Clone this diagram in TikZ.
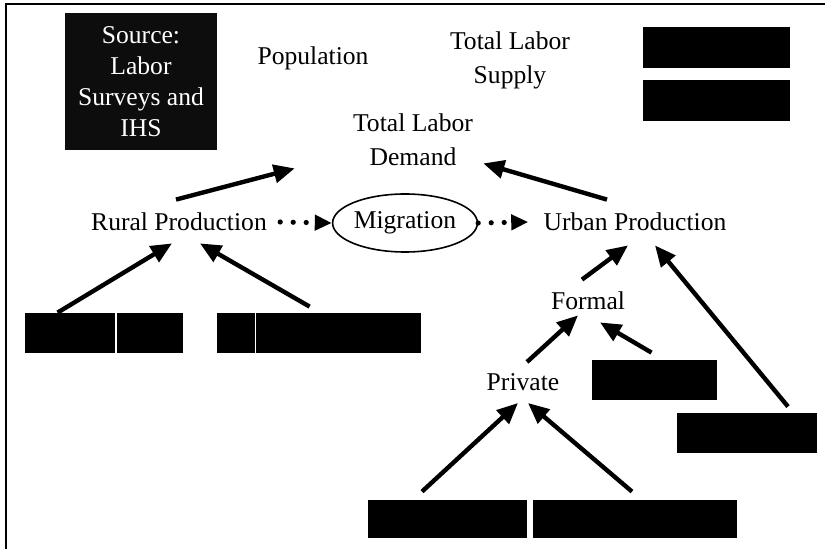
\documentclass[tikz,border=0pt]{standalone}
\usepackage{fontspec}
\setmainfont{Liberation Serif}
\usetikzlibrary{arrows.meta,shapes.geometric}

\begin{document}
\begin{tikzpicture}[
  x=0.5pt, y=-0.5pt,
  every node/.style={font=\fontsize{12.8}{17}\selectfont, inner sep=0pt},
  lbl/.style={align=center},
  src/.style={rectangle, fill=black!95, text=white, align=center, minimum width=76pt, minimum height=68.5pt, font=\fontsize{12.8}{15.5}\selectfont},
  blk/.style={rectangle, fill=black, minimum width=#1, minimum height=20pt},
  mig/.style={ellipse, draw, line width=0.8pt, minimum width=68pt, minimum height=29pt},
  arr/.style={line width=2.2pt, -{Triangle[length=10.5pt,width=9pt]}},
  dots/.style={line width=2.6pt, line cap=round, dash pattern=on 0pt off 6.5pt, -{Triangle[length=8.5pt,width=7.5pt]}},
]
\useasboundingbox (0,0) rectangle (825,549);

% Frame
\draw[line width=1pt] (6,549) -- (6,4) -- (825,4);

% Top row
\node[src] (source) at (141,81.5) {Source:\\Labor\\Surveys and\\IHS};
\node[lbl] (population) at (313,58) {Population};
\node[lbl] (supply) at (510,60.5) {Total Labor\\Supply};
\node[blk=73.5pt, minimum height=20.5pt] (tr1) at (716.5,47.5) {};
\node[blk=73.5pt, minimum height=20.5pt] (tr2) at (716.5,100.5) {};
\node[lbl] (demand) at (413,140) {Total Labor\\Demand};

% Middle row
\node[lbl] (rural) at (179,222) {Rural Production};
\node[mig] (migration) at (405,223) {Migration};
\node[lbl] (urban) at (635,222) {Urban Production};

% Rural inputs
\node[blk=79pt] (bl1) at (104,333) {};
\node[blk=102pt] (bl2) at (319,333) {};
\draw[white, line width=0.6pt] ([xshift=6pt]bl1.north) -- ([xshift=6pt]bl1.south);
\draw[white, line width=0.6pt] ([xshift=19.5pt]bl2.north west) -- ([xshift=19.5pt]bl2.south west);

% Urban branch
\node[lbl] (formal) at (588,301) {Formal};
\node[lbl] (private) at (523,382) {Private};
\node[blk=62.5pt] (pr) at (654.5,380) {};
\node[blk=70pt] (rr) at (747,433) {};
\node[blk=79.5pt, minimum height=19pt] (b1) at (447.5,519) {};
\node[blk=102pt, minimum height=19pt] (b2) at (635,519) {};

% Arrows
\draw[arr] ([xshift=-1.5pt,yshift=6.5pt]rural.north) -- ([xshift=-29pt,yshift=-1pt]demand.south west);
\draw[arr] ([xshift=-14pt,yshift=6.5pt]urban.north) -- ([xshift=5pt,yshift=1.5pt]demand.south east);
\draw[dots] ([xshift=6.5pt]rural.east) -- (migration.west);
\draw[dots] (migration.east) -- ([xshift=-7.5pt]urban.west);
\draw[arr] ([xshift=16.5pt]bl1.north west) -- ([xshift=-3.5pt,yshift=-6pt]rural.south);
\draw[arr] ([xshift=46.5pt,yshift=3pt]bl2.north west) -- ([xshift=10.5pt,yshift=-6pt]rural.south);
\draw[arr] ([xshift=-3pt,yshift=6pt]formal.north) -- ([xshift=-3.5pt,yshift=-7pt]urban.south);
\draw[arr] ([xshift=20.5pt,yshift=3pt]rr.north) -- ([xshift=10pt,yshift=-7pt]urban.south);
\draw[arr] ([xshift=2pt,yshift=5.5pt]private.north) -- ([xshift=-5pt,yshift=-2.5pt]formal.south);
\draw[arr] ([xshift=-1.5pt,yshift=3.5pt]pr.north) -- ([xshift=6pt,yshift=-6pt]formal.south);
\draw[arr] ([xshift=-12.75pt,yshift=4pt]b1.north) -- ([xshift=-2.5pt,yshift=-6pt]private.south);
\draw[arr] ([xshift=-1.5pt,yshift=4pt]b2.north) -- ([xshift=2.5pt,yshift=-6pt]private.south);

\end{tikzpicture}
\end{document}
